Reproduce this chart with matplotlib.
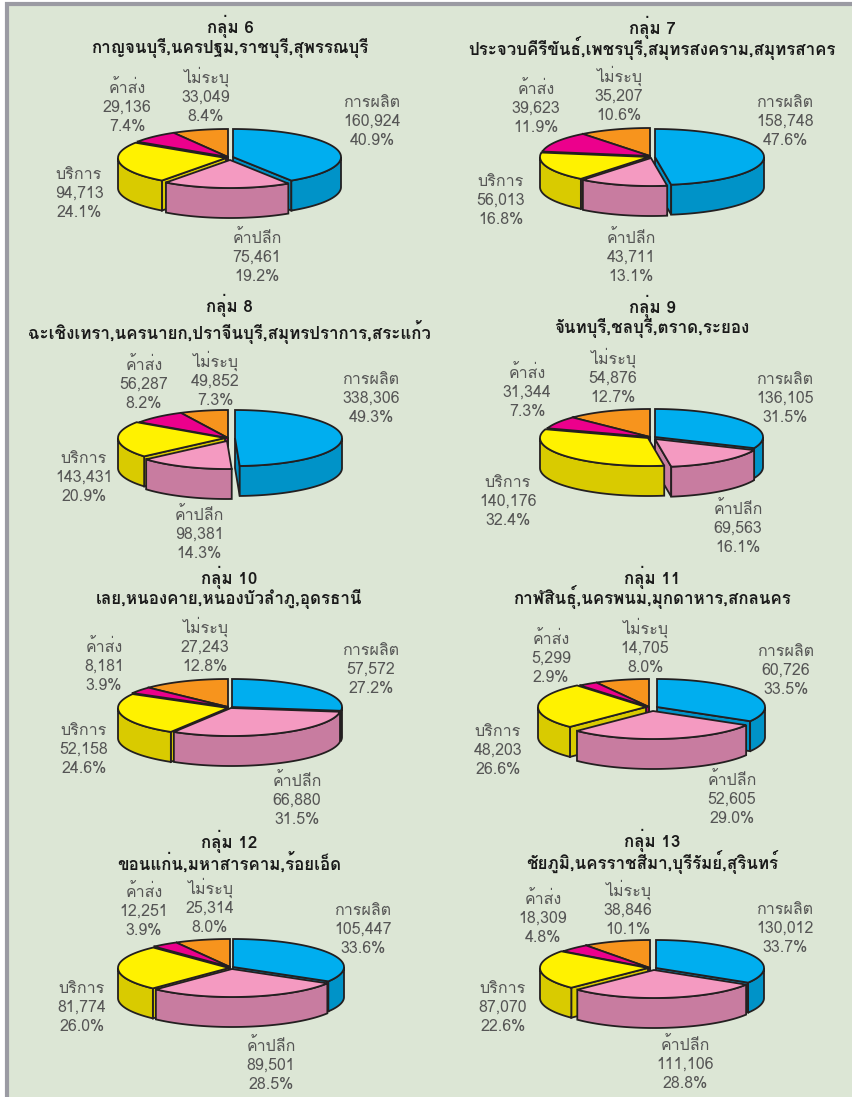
import matplotlib
matplotlib.use("Agg")
import matplotlib.pyplot as plt
from matplotlib.patches import Polygon, Rectangle
import numpy as np

# sector names, clockwise from 12 o'clock
sectors = ["การผลิต", "ค้าปลีก", "บริการ", "ค้าส่ง", "ไม่ระบุ"]

groups = ["กลุ่ม 6", "กลุ่ม 7", "กลุ่ม 8", "กลุ่ม 9", "กลุ่ม 10", "กลุ่ม 11", "กลุ่ม 12", "กลุ่ม 13"]
provinces = [
    "กาญจนบุรี,นครปฐม,ราชบุรี,สุพรรณบุรี",
    "ประจวบคีรีขันธ์,เพชรบุรี,สมุทรสงคราม,สมุทรสาคร",
    "ฉะเชิงเทรา,นครนายก,ปราจีนบุรี,สมุทรปราการ,สระแก้ว",
    "จันทบุรี,ชลบุรี,ตราด,ระยอง",
    "เลย,หนองคาย,หนองบัวลำภู,อุดรธานี",
    "กาฬสินธุ์,นครพนม,มุกดาหาร,สกลนคร",
    "ขอนแก่น,มหาสารคาม,ร้อยเอ็ด",
    "ชัยภูมิ,นครราชสีมา,บุรีรัมย์,สุรินทร์",
]

values = [
    [160924, 75461, 94713, 29136, 33049],
    [158748, 43711, 56013, 39623, 35207],
    [338306, 98381, 143431, 56287, 49852],
    [136105, 69563, 140176, 31344, 54876],
    [57572, 66880, 52158, 8181, 27243],
    [60726, 52605, 48203, 5299, 14705],
    [105447, 89501, 81774, 12251, 25314],
    [130012, 111106, 87070, 18309, 38846],
]
percents = [
    [40.9, 19.2, 24.1, 7.4, 8.4],
    [47.6, 13.1, 16.8, 11.9, 10.6],
    [49.3, 14.3, 20.9, 8.2, 7.3],
    [31.5, 16.1, 32.4, 7.3, 12.7],
    [27.2, 31.5, 24.6, 3.9, 12.8],
    [33.5, 29.0, 26.6, 2.9, 8.0],
    [33.6, 28.5, 26.0, 3.9, 8.0],
    [33.7, 28.8, 22.6, 4.8, 10.1],
]

# colours
top_colors = ["#00AEEF", "#F49AC1", "#FFF200", "#EC008C", "#F7941D"]
wall_colors = ["#0093C8", "#C87CA0", "#D9CB00", "#B8006E", "#C87616"]
edge = "#231F20"
bg = "#DCE6D5"
frame = "#9B9BA3"
text_col = "#555555"

# layout, in pixels: pie centre, radii
centers = [(229, 157), (652, 157), (229, 438), (650, 438), (229, 706), (652, 708), (231, 967), (652, 968)]
rx = [108, 109, 107, 108, 110, 108, 111, 108]
ry = 28
depth = 30

# how far each slice is pulled out of the pie
offsets = [
    [(4, 0), (1, 3), (-3, 1), (-1, 0), (-1, 0)],
    [(3, 0), (-1, 1), (-3, 0), (-2, -1), (-2, -1)],
    [(6, 0), (-2, 3), (-4, 0), (-1, 0), (-1, 0)],
    [(5, -1), (5, 1), (-2, 0), (0, -1), (0, -1)],
    [(3, 1), (2, 2), (-1, 2), (-1, 1), (-1, 1)],
    [(5, -1), (1, 3), (-6, -1), (-3, -1), (-3, -1)],
    [(2, 0), (1, 2), (-2, 1), (-1, 0), (-1, 0)],
    [(4, 0), (2, 2), (-4, 0), (-2, 0), (-2, 0)],
]

# title x, baselines of the two title lines
title_pos = [(230, 33, 53), (652, 34, 55), (229, 312, 339), (652, 313, 333),
             (229, 584, 604), (652, 584, 604), (229, 848, 870), (652, 847, 869)]
# label x and first line y for each sector
label_pos = [
    [(372, 101), (257, 237), (79, 173), (127, 87), (206, 77)],
    [(785, 101), (631, 237), (501, 180), (536, 88), (619, 76)],
    [(371, 378), (199, 514), (84, 457), (144, 364), (215, 361)],
    [(785, 378), (738, 508), (508, 481), (527, 372), (613, 358)],
    [(371, 649), (297, 780), (84, 729), (104, 646), (205, 627)],
    [(786, 650), (732, 779), (498, 730), (551, 638), (645, 628)],
    [(363, 909), (271, 1045), (82, 987), (144, 891), (210, 888)],
    [(785, 908), (685, 1044), (503, 987), (543, 898), (628, 890)],
]
line_gap = 19

plt.rcParams["font.family"] = ["Loma", "DejaVu Sans"]

fig = plt.figure(figsize=(8.52, 10.97), dpi=100)
ax = fig.add_axes([0, 0, 1, 1])
ax.set_xlim(0, 852)
ax.set_ylim(1097, 0)
ax.axis("off")

ax.add_patch(Rectangle((7, 4), 850, 1100, fc=bg, ec=frame, lw=3))


def pt(cx, cy, r_x, a):
    return cx + r_x * np.sin(a), cy - ry * np.cos(a)


def draw_slice(cx, cy, r_x, a0, a1, top, wall):
    lw = 1.3
    # cut faces, only those turned to the viewer
    for a, show in ((a1, a1 < np.pi), (a0, a0 > np.pi)):
        if show:
            x, y = pt(cx, cy, r_x, a)
            ax.add_patch(Polygon([(cx, cy), (x, y), (x, y + depth), (cx, cy + depth)], fc=wall, ec=edge, lw=lw))
    # outer wall, front half of the rim only
    w0 = max(a0, np.pi / 2)
    w1 = min(a1, 3 * np.pi / 2)
    if w1 > w0:
        t = np.linspace(w0, w1, 80)
        x, y = pt(cx, cy, r_x, t)
        ax.add_patch(Polygon(np.r_[np.c_[x, y], np.c_[x[::-1], y[::-1] + depth]], fc=wall, ec=edge, lw=lw))
    # top
    t = np.linspace(a0, a1, 120)
    x, y = pt(cx, cy, r_x, t)
    ax.add_patch(Polygon(np.r_[[(cx, cy)], np.c_[x, y]], fc=top, ec=edge, lw=lw))


for i in range(len(groups)):
    vals = np.array(values[i], dtype=float)
    angles = np.r_[0, np.cumsum(vals)] / vals.sum() * 2 * np.pi
    cx, cy = centers[i]
    # the slice over the front of the pie goes last, the others lead up to it from both sides
    front = int(np.searchsorted(angles, np.pi)) - 1
    order = list(range(front)) + list(range(len(vals) - 1, front, -1)) + [front]
    for j in order:
        dx, dy = offsets[i][j]
        draw_slice(cx + dx, cy + dy, rx[i], angles[j], angles[j + 1], top_colors[j], wall_colors[j])

    tx, ty1, ty2 = title_pos[i]
    ax.text(tx, ty1, groups[i], ha="center", va="baseline", fontsize=12.2, fontweight="bold", color="#1A1A1A")
    ax.text(tx, ty2, provinces[i], ha="center", va="baseline", fontsize=12.2, fontweight="bold", color="#1A1A1A")

    for j in range(len(sectors)):
        lx, ly = label_pos[i][j]
        lines = [sectors[j], f"{values[i][j]:,}", f"{percents[i][j]:.1f}%"]
        for k, s in enumerate(lines):
            ax.text(lx, ly + 6 + k * line_gap, s, ha="center", va="baseline", fontsize=11.5, color=text_col)

fig.savefig("out.png", dpi=100)
